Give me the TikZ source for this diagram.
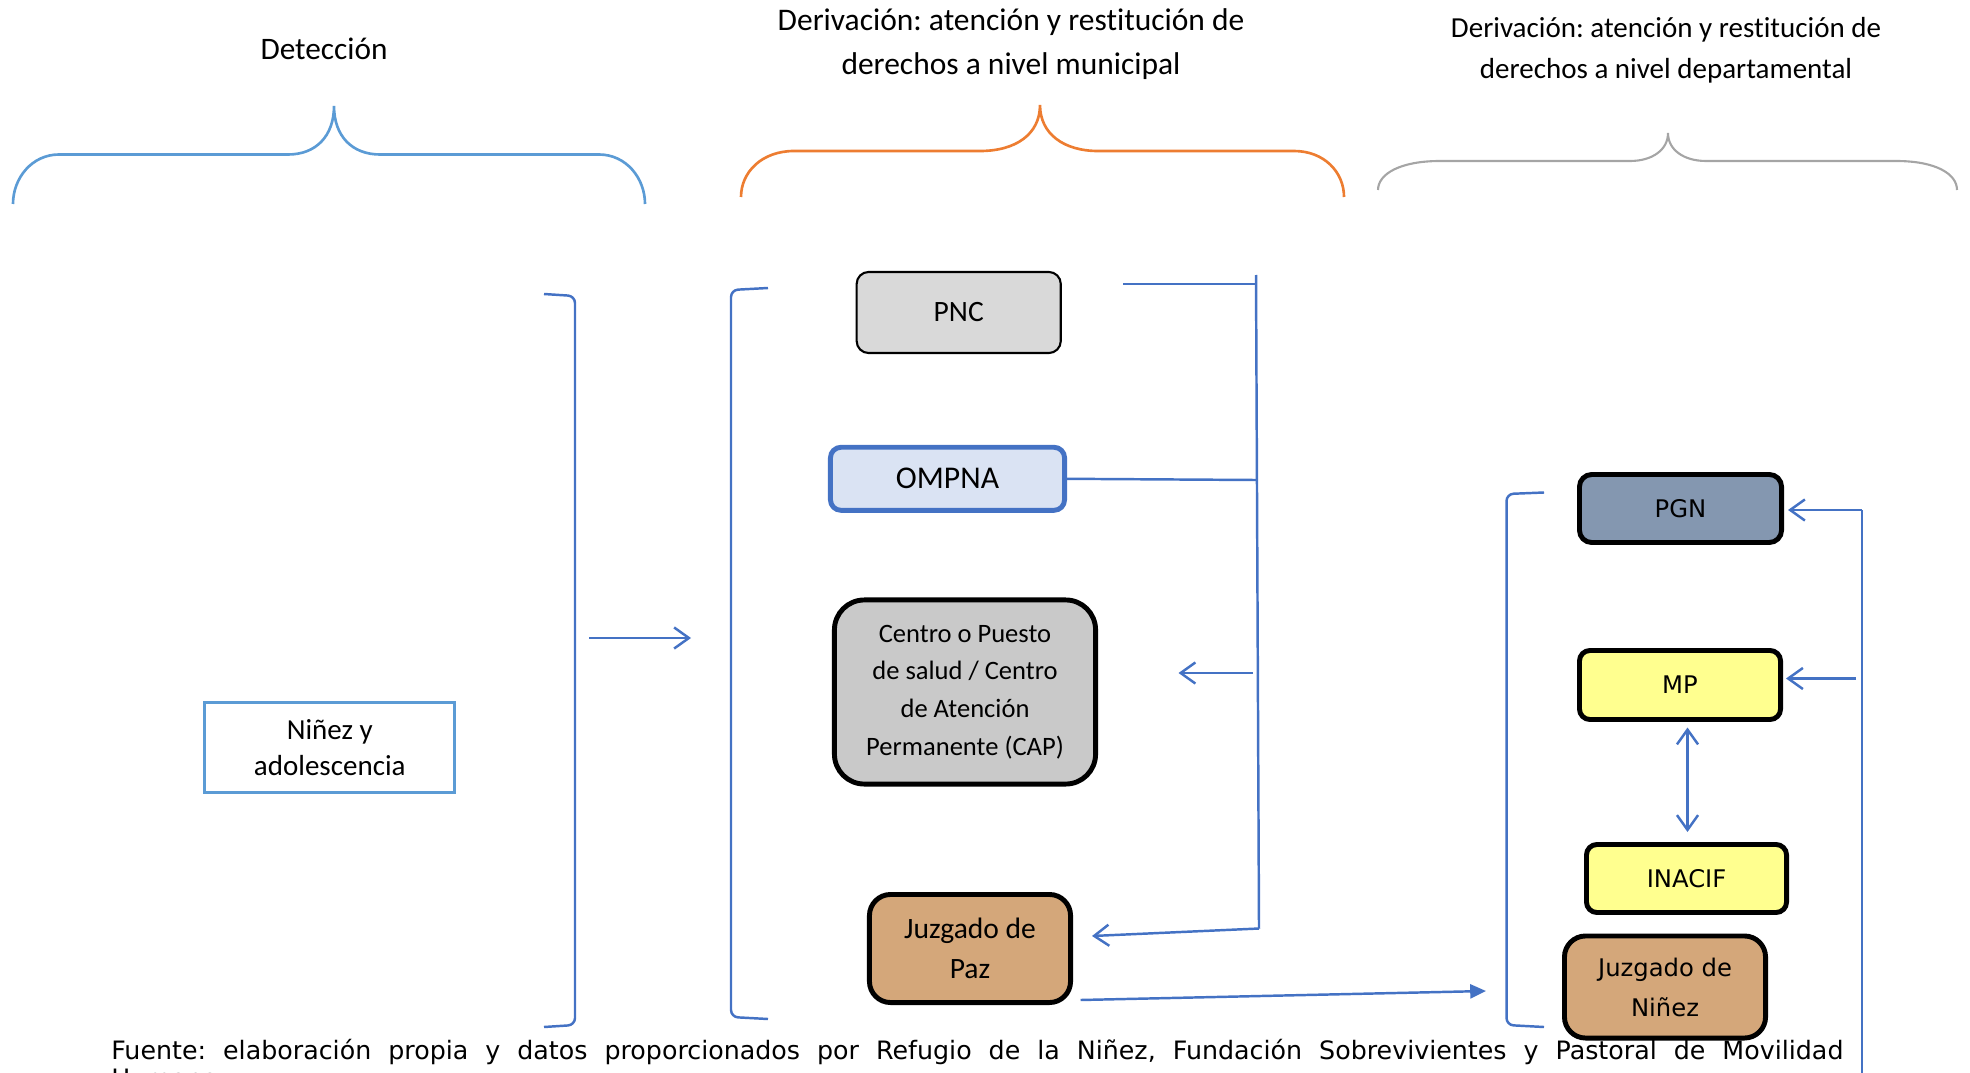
\documentclass[tikz,border=0pt]{standalone}
\usepackage{fontspec}
\setmainfont{Carlito}[Ligatures=NoCommon]
\newfontfamily\dvfont{DejaVu Sans}
\usetikzlibrary{arrows.meta}
\definecolor{cblue}{HTML}{4472C4}
\definecolor{lblue}{HTML}{5B9BD5}
\definecolor{corange}{HTML}{ED7D31}
\definecolor{cgrey}{HTML}{A5A5A5}
\definecolor{fpnc}{HTML}{D9D9D9}
\definecolor{fompna}{HTML}{DAE3F3}
\definecolor{fcentro}{HTML}{C9C9C9}
\definecolor{ftan}{HTML}{D4A77A}
\definecolor{fpgn}{HTML}{8497B0}
\definecolor{fyel}{HTML}{FFFF8F}
\tikzset{
  conn/.style={draw=cblue, line width=0.7pt},
  openarr/.style={-{Straight Barb[length=4.2pt,width=6pt,line width=0.7pt]}},
  dblarr/.style={{Straight Barb[length=4.2pt,width=6pt,line width=0.7pt]}-{Straight Barb[length=4.2pt,width=6pt,line width=0.7pt]}},
  fillarr/.style={-{Triangle[length=4.5pt,width=4pt]}},
  bracestyle/.style={line width=0.75pt},
  rbox/.style={draw=black, line width=1.4pt, inner sep=0pt, align=center},
  hdr/.style={align=center, inner sep=0pt}
}
\frenchspacing
\begin{document}
\begin{tikzpicture}[x=0.01cm,y=-0.01cm]
\useasboundingbox (0,0) rectangle (1970,1073);
\clip (0,0) rectangle (1970,1073);

% headers
\node[hdr, anchor=base, font=\fontsize{8.9}{12.5}\selectfont] (hdet) at (324,60) {Detección};
\node[hdr, font=\fontsize{8.95}{12.5}\selectfont] (hmun) at (1011,44) {Derivación: atención y restitución de\\derechos a nivel municipal};
\node[hdr, font=\fontsize{8.25}{11.7}\selectfont] (hdep) at (1666,50) {Derivación: atención y restitución de\\derechos a nivel departamental};

% braces
\draw[bracestyle, draw=lblue] (13,204) .. controls (13,178) and (32,154.5) .. (59,154.5) -- (288,154.5)
  .. controls (316,154.5) and (334,136) .. (334,106)
  .. controls (334,136) and (352,154.5) .. (380,154.5) -- (599,154.5)
  .. controls (626,154.5) and (645,178) .. (645,204);
\draw[bracestyle, draw=corange] (741,197) .. controls (741,172) and (762,151) .. (794,151) -- (980,151)
  .. controls (1016,151) and (1040,134) .. (1040,105)
  .. controls (1040,134) and (1064,151) .. (1098,151) -- (1294,151)
  .. controls (1324,151) and (1344,172) .. (1344,197);
\draw[line width=0.6pt, draw=cgrey] (1378,190) .. controls (1378,174) and (1400,161) .. (1440,161) -- (1630,161)
  .. controls (1652,161) and (1668,150) .. (1668,133)
  .. controls (1668,150) and (1684,161) .. (1706,161) -- (1896,161)
  .. controls (1936,161) and (1957,174) .. (1957,190);

% brackets
\draw[conn, rounded corners=2pt] (544,294) -- (575,296) -- (575,1025) -- (544,1027);
\draw[conn, rounded corners=2pt] (768,288) -- (731,290) -- (731,1017) -- (768,1019);
\draw[conn, rounded corners=2pt] (1544,492.5) -- (1506.5,494) -- (1506.5,1025) -- (1544,1027);

% detection box
\node[draw=lblue, line width=0.8pt, inner sep=0pt, align=center, minimum width=2.50cm, minimum height=0.90cm,
  font=\fontsize{8.25}{10.2}\selectfont] (nino) at (329.8,747.5) {Niñez y\\adolescencia};

% arrow detection -> municipal
\coordinate (dA) at (589,638);
\coordinate (dB) at (691,638);
\draw[conn, openarr] (dA) -- (dB);

% municipal boxes
\node[rbox, fill=fpnc, line width=0.6pt, rounded corners=3.4pt, minimum width=2.04cm, minimum height=0.81cm,
  font=\fontsize{8.4}{10}\selectfont] (pnc) at (958.7,312.5) {PNC};
\node[rbox, draw=cblue, fill=fompna, rounded corners=3pt, minimum width=2.34cm, minimum height=0.63cm,
  font=\fontsize{9}{11}\selectfont] (ompna) at (947.5,478.8) {OMPNA};
\node[rbox, fill=fcentro, rounded corners=8.5pt, minimum width=2.61cm, minimum height=1.84cm,
  font=\fontsize{7.55}{10.7}\selectfont] (centro) at (965,692) {Centro o Puesto\\de salud / Centro\\de Atención\\Permanente (CAP)};
\node[rbox, fill=ftan, rounded corners=6pt, minimum width=2.01cm, minimum height=1.08cm,
  font=\fontsize{8.4}{11.4}\selectfont] (paz) at (970,948.5) {Juzgado de\\Paz};

% municipal bus
\coordinate (pncR) at (1123,284);
\coordinate (busT) at (1256,275);
\coordinate (busP) at (1256,284);
\coordinate (busO) at (1256,480);
\coordinate (busB) at (1259,928.5);
\coordinate (cenS) at (1253,673);
\coordinate (cenE) at (1178.5,673);
\coordinate (pazE) at (1092,936);
\coordinate (pazS) at (1080.5,1000);
\coordinate (ninE) at (1486,991);
\draw[conn] (pncR) -- (busP);
\draw[conn] (busT) -- (busB);
\draw[conn] (ompna.east) -- (busO);
\draw[conn, openarr] (cenS) -- (cenE);
\draw[conn, openarr] (busB) -- (pazE);
\draw[conn, fillarr] (pazS) -- (ninE);

% departmental boxes
\node[rbox, fill=fpgn, rounded corners=3.5pt, minimum width=2.02cm, minimum height=0.68cm,
  font=\dvfont\fontsize{6.9}{8}\selectfont] (pgn) at (1680.5,508.5) {PGN};
\node[rbox, fill=fyel, rounded corners=3pt, minimum width=2.01cm, minimum height=0.69cm,
  font=\dvfont\fontsize{6.9}{8}\selectfont] (mp) at (1680,685) {MP};
\node[rbox, fill=fyel, rounded corners=3pt, minimum width=2.00cm, minimum height=0.68cm,
  font=\dvfont\fontsize{6.9}{8}\selectfont] (inacif) at (1686.5,878.5) {INACIF};
\node[rbox, fill=ftan, rounded corners=6pt, minimum width=2.01cm, minimum height=1.02cm,
  font=\dvfont\fontsize{6.9}{11.4}\selectfont] (nin) at (1665,987) {Juzgado de\\Niñez};

% departmental connectors
\coordinate (rT) at (1862,510);
\coordinate (rB) at (1862,1080);
\coordinate (pgnA) at (1788,510);
\coordinate (mpS) at (1856,678.5);
\coordinate (mpA) at (1786,678.5);
\coordinate (mpD) at (1687.5,727.5);
\coordinate (inU) at (1687.5,832);
\draw[conn] (rT) -- (rB);
\draw[conn, openarr] (rT) -- (pgnA);
\draw[conn, openarr] (mpS) -- (mpA);
\draw[conn, dblarr] (mpD) -- (inU);

% footer
\node[anchor=base west, inner sep=0pt, font=\dvfont\fontsize{7.2}{8}\selectfont] (foot1) at (110.6,1059)
  {\makebox[17.31cm][s]{Fuente: elaboración propia y datos proporcionados por Refugio de la Niñez, Fundación Sobrevivientes y Pastoral de Movilidad}};
\node[anchor=base west, inner sep=0pt, font=\dvfont\fontsize{7.2}{8}\selectfont] (foot2) at (110.6,1087) {Humana};
\end{tikzpicture}
\end{document}
